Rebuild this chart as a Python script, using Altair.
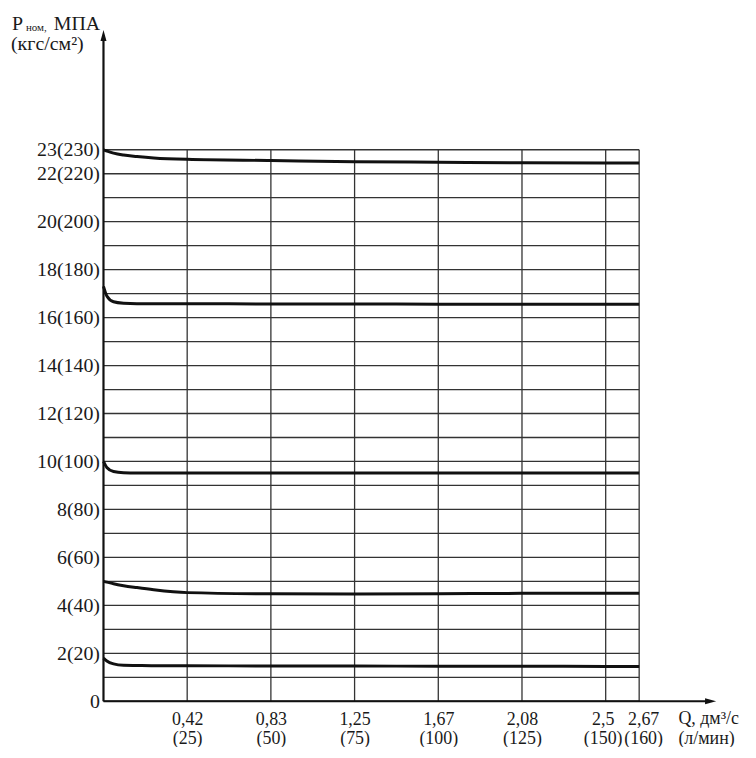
import altair as alt
import pandas as pd

# ---- data ----
# x ticks: flow in l/min with dm3/s labels
q_lpm = [25, 50, 75, 100, 125, 150, 160]
q_dm3 = ["0,42", "0,83", "1,25", "1,67", "2,08", "2,5", "2,67"]
q_lpm_labels = ["(25)", "(50)", "(75)", "(100)", "(125)", "(150)", "(160)"]

# y ticks: pressure MPa (kgf/cm2)
p_ticks = [0, 2, 4, 6, 8, 10, 12, 14, 16, 18, 20, 22, 23]
p_labels = ["0", "2(20)", "4(40)", "6(60)", "8(80)", "10(100)", "12(120)",
            "14(140)", "16(160)", "18(180)", "20(200)", "22(220)", "23(230)"]

# grid
h_grid = list(range(0, 24))      # MPa, every 1
grid_x_max = 160
grid_y_max = 23
x_axis_max = 183
y_axis_max = 28

# curves (Q l/min, P MPa)
curve_q = [0, 1, 3, 6, 10, 15, 25, 50, 75, 100, 125, 150, 160]
curve_1 = [23.0, 22.95, 22.86, 22.78, 22.72, 22.66, 22.6, 22.55, 22.5, 22.48, 22.46, 22.45, 22.45]
curve_2 = [17.3, 16.9, 16.66, 16.6, 16.58, 16.58, 16.58, 16.57, 16.57, 16.56, 16.56, 16.56, 16.56]
curve_3 = [10.0, 9.75, 9.58, 9.53, 9.52, 9.52, 9.52, 9.52, 9.52, 9.52, 9.52, 9.52, 9.52]
curve_4 = [5.0, 4.97, 4.9, 4.82, 4.74, 4.65, 4.53, 4.48, 4.47, 4.48, 4.5, 4.5, 4.5]
curve_5 = [1.8, 1.68, 1.56, 1.5, 1.49, 1.48, 1.48, 1.47, 1.47, 1.46, 1.46, 1.45, 1.45]

FONT = "Liberation Serif"
INK = "#1a1a1a"

curves = pd.DataFrame(
    [{"s": name, "q": q, "p": p}
     for name, vals in [("c1", curve_1), ("c2", curve_2), ("c3", curve_3),
                        ("c4", curve_4), ("c5", curve_5)]
     for q, p in zip(curve_q, vals)]
)
hg = pd.DataFrame({"y": h_grid, "x0": 0, "x1": grid_x_max})
vg = pd.DataFrame({"x": q_lpm, "y0": 0, "y1": grid_y_max})

x_label_expr = " : ".join(
    f"datum.value == {v} ? ['{a}', '{b}']" for v, a, b in zip(q_lpm, q_dm3, q_lpm_labels)
) + " : ''"
y_label_expr = " : ".join(
    f"datum.value == {v} ? '{l}'" for v, l in zip(p_ticks, p_labels)
) + " : ''"

x_scale = alt.Scale(domain=[0, x_axis_max], nice=False, zero=False)
y_scale = alt.Scale(domain=[0, y_axis_max], nice=False, zero=False)

x_axis = alt.Axis(values=q_lpm, labelExpr=x_label_expr, domain=False, ticks=False,
                  grid=False, title=None, labelFont=FONT, labelFontSize=18,
                  labelColor=INK, labelPadding=9, labelLineHeight=19,
                  labelOverlap=False, labelFlush=False,
                  labelOffset={"condition": [{"test": "datum.value == 150", "value": -3},
                                             {"test": "datum.value == 160", "value": 4}],
                               "value": 0})
y_axis = alt.Axis(values=p_ticks, labelExpr=y_label_expr, domain=False, ticks=False,
                  grid=False, title=None, labelFont=FONT, labelFontSize=20,
                  labelColor=INK, labelPadding=4, labelOverlap=False, labelFlush=False)

hlines = alt.Chart(hg).mark_rule(color="#333333", strokeWidth=1.3).encode(
    x=alt.X("x0:Q", scale=x_scale, axis=x_axis),
    x2="x1:Q",
    y=alt.Y("y:Q", scale=y_scale, axis=y_axis),
)
vlines = alt.Chart(vg).mark_rule(color="#333333", strokeWidth=1.3).encode(
    x=alt.X("x:Q", scale=x_scale, axis=x_axis),
    y=alt.Y("y0:Q", scale=y_scale, axis=y_axis),
    y2="y1:Q",
)

axes_df = pd.DataFrame({
    "x0": [0, 0], "x1": [0, x_axis_max - 2],
    "y0": [0, 0], "y1": [y_axis_max - 0.3, 0],
})
axis_lines = alt.Chart(axes_df).mark_rule(color="#111111", strokeWidth=2.2).encode(
    x=alt.X("x0:Q", scale=x_scale, axis=x_axis),
    x2="x1:Q",
    y=alt.Y("y0:Q", scale=y_scale, axis=y_axis),
    y2="y1:Q",
)

arrow_up = alt.Chart(pd.DataFrame({"x": [0], "y": [y_axis_max]})).mark_point(
    shape="M0,0 L-0.27,1 L0.27,1 Z", size=500, filled=True, color="#111111", opacity=1
).encode(x=alt.X("x:Q", scale=x_scale, axis=x_axis),
         y=alt.Y("y:Q", scale=y_scale, axis=y_axis))
arrow_right = alt.Chart(pd.DataFrame({"x": [x_axis_max], "y": [0]})).mark_point(
    shape="M0,0 L-1,-0.27 L-1,0.27 Z", size=500, filled=True, color="#111111", opacity=1
).encode(x=alt.X("x:Q", scale=x_scale, axis=x_axis),
         y=alt.Y("y:Q", scale=y_scale, axis=y_axis))

lines = alt.Chart(curves).mark_line(color="#111111", strokeWidth=3, interpolate="monotone").encode(
    x=alt.X("q:Q", scale=x_scale, axis=x_axis),
    y=alt.Y("p:Q", scale=y_scale, axis=y_axis),
    detail="s:N",
)

def txt(t, x, y, size=18, align="left"):
    return alt.Chart(pd.DataFrame({"t": [t]})).mark_text(
        font=FONT, fontSize=size, color=INK, align=align, baseline="alphabetic"
    ).encode(text="t:N", x=alt.value(x), y=alt.value(y))

titles = [
    txt("P", -92, 0, 20),
    txt("ном,", -78, 1, 11),
    txt("МПА", -50, 0, 20),
    txt("(кгс/см²)", -93, 20, 20),
    txt("Q, дм³/с", 578, 698, 18),
    txt("(л/мин)", 578, 718, 18),
]

chart = alt.layer(hlines, vlines, axis_lines, lines, arrow_up, arrow_right, *titles).properties(
    width=616, height=675,
    autosize=alt.AutoSizeParams(type="none"),
    padding={"left": 96, "top": 20, "right": 32, "bottom": 44},
).configure(background="white").configure_view(stroke=None)

chart.save("out.html", embed_options={"renderer": "svg", "actions": False})
